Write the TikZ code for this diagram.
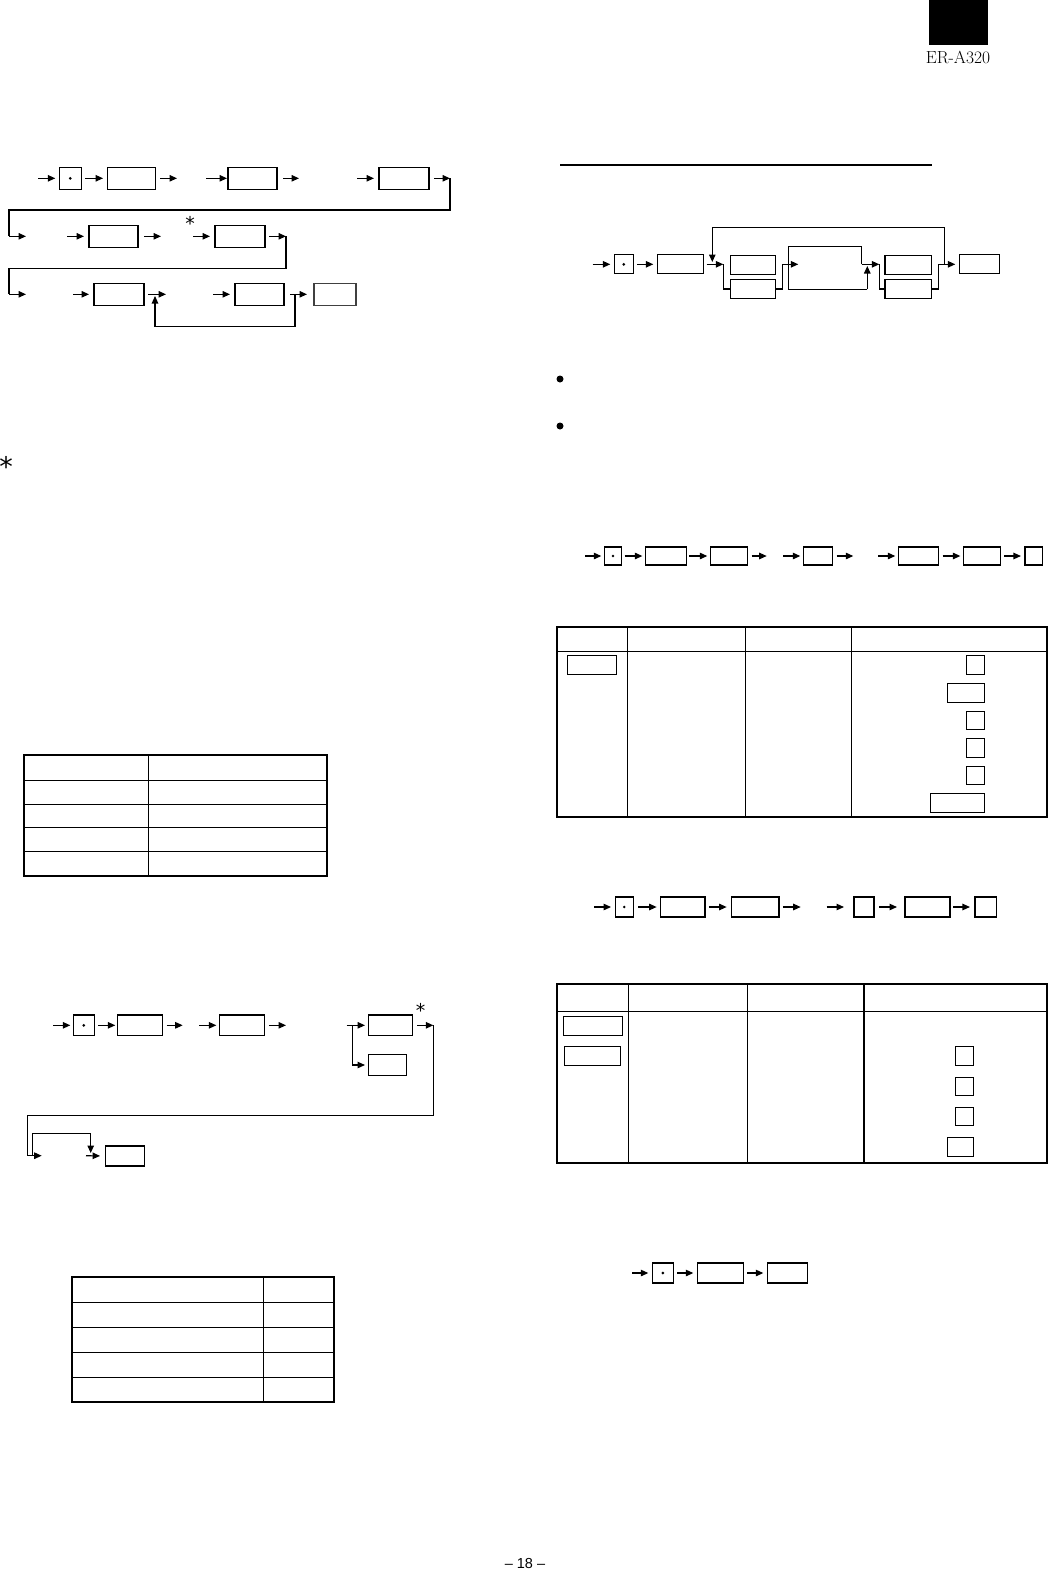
\documentclass[tikz,border=0pt]{standalone}
\usepackage{fontspec}
\newfontfamily\dejavufam{DejaVu Sans}
\newfontfamily\libsansfam{Liberation Sans}
\usetikzlibrary{arrows.meta}
\begin{document}
\begin{tikzpicture}[x=1pt,y=-1pt,
  kb/.style={draw, line width=1.1pt, inner sep=0pt, outer sep=0pt},
  arr/.style={line width=1.1pt, -{Triangle[length=7.5pt,width=6.5pt]}},
  ln/.style={line width=1.1pt},
  gp/.style={shorten <=4pt, shorten >=4pt},
  tout/.style={line width=2pt},
  tin/.style={line width=1.4pt},
  astsmall/.style={inner sep=0pt, font=\dejavufam\fontsize{19}{19}\selectfont},
  astbig/.style={inner sep=0pt, font=\dejavufam\fontsize{27}{27}\selectfont}]
\useasboundingbox (0,0) rectangle (1049,1575);
% header
\fill (929,0) rectangle (988,45);
\node[font=\fontsize{17.5}{17.5}\selectfont, inner sep=0pt] (model) at (958,57) {ER-A320};
\node[font=\libsansfam\fontsize{14.5}{14.5}\selectfont, inner sep=0pt] (pageno) at (525,1563) {\textendash{} 18 \textendash};

% ===== Diagram A (top left) =====
\coordinate (a0) at (38,178.3);
\node[kb, minimum width=22pt, minimum height=22pt] (dA) at (70.3,178.3) {};
\fill (dA) circle (1.5pt);
\node[kb, minimum width=48.3pt, minimum height=22pt] (bA1) at (131.2,178.3) {};
\coordinate (a1) at (177,178.3);
\coordinate (a2) at (206,178.3);
\node[kb, minimum width=49pt, minimum height=22pt] (bA2) at (252.5,178.3) {};
\coordinate (a3) at (299,178.3);
\coordinate (a4) at (357,178.3);
\node[kb, minimum width=50pt, minimum height=22pt] (bA4) at (404,178.3) {};
\coordinate (a5) at (450,178.3);
\draw[arr, shorten >=4pt] (a0) -- (dA.west);
\draw[arr, gp] (dA.east) -- (bA1.west);
\draw[arr, shorten <=4.7pt] (bA1.east) -- (a1);
\draw[arr, shorten >=1pt] (a2) -- (bA2.west);
\draw[arr, shorten <=6pt] (bA2.east) -- (a3);
\draw[arr, shorten >=5pt] (a4) -- (bA4.west);
\draw[arr, shorten <=5pt] (bA4.east) -- (a5);
\coordinate (a6) at (9,236.3);
\coordinate (a7) at (26,236.3);
\draw[ln] (a5) -- (450,210) -- (9,210) -- (a6);
\draw[arr] (a6) -- (a7);
% row 2
\coordinate (b0) at (67,236.3);
\node[kb, minimum width=49pt, minimum height=22pt] (bB1) at (113.5,236.3) {};
\coordinate (b1) at (161,236.3);
\node[astsmall] (astA) at (190,223) {*};
\coordinate (b2) at (193,236.3);
\node[kb, minimum width=50pt, minimum height=22pt] (bB2) at (240,236.3) {};
\coordinate (b3) at (286,236.3);
\draw[arr, shorten >=5pt] (b0) -- (bB1.west);
\draw[arr, shorten <=6pt] (bB1.east) -- (b1);
\draw[arr, shorten >=5pt] (b2) -- (bB2.west);
\draw[arr, shorten <=4pt] (bB2.east) -- (b3);
\coordinate (c0) at (9,294.3);
\coordinate (c1) at (26,294.3);
\draw[ln] (b3) -- (286,268.3) -- (9,268.3) -- (c0);
\draw[arr] (c0) -- (c1);
% row 3
\coordinate (c2) at (73,294.3);
\node[kb, minimum width=50pt, minimum height=22pt] (bC1) at (119,294.3) {};
\coordinate (c3) at (166,294.3);
\coordinate (c4) at (213,294.3);
\node[kb, minimum width=49pt, minimum height=22pt] (bC2) at (259.5,294.3) {};
\node[kb, draw=black!75, minimum width=42pt, minimum height=22pt] (bC3) at (335,294.3) {};
\coordinate (c5) at (295,294.3);
\coordinate (c6) at (155,296);
\draw[arr, shorten >=5pt] (c2) -- (bC1.west);
\draw[arr, shorten <=4pt] (bC1.east) -- (c3);
\draw[arr, shorten >=5pt] (c4) -- (bC2.west);
\draw[arr, shorten <=6pt, shorten >=7pt] (bC2.east) -- (bC3.west);
\draw[arr] (c5) -- (295,326.7) -- (155,326.7) -- (c6);

% ===== Diagram B (top right) =====
\draw[ln] (560,165) -- (931.7,165);
\coordinate (d0) at (592.7,264.3);
\node[kb, minimum width=19pt, minimum height=19pt] (dB) at (623.8,264.3) {};
\fill (dB) circle (1.5pt);
\node[kb, minimum width=46pt, minimum height=19pt] (bD1) at (680.3,264.3) {};
\coordinate (d1) at (723.3,264.3);
\node[kb, minimum width=45pt, minimum height=19pt] (bD2) at (752.8,264.8) {};
\node[kb, minimum width=45pt, minimum height=19.4pt] (bD3) at (752.8,289) {};
\coordinate (d2) at (782.3,264.3);
\coordinate (d3) at (798.3,264.3);
\coordinate (d4) at (861.7,264.3);
\coordinate (d5) at (867.3,266);
\coordinate (d6) at (879.3,264.3);
\node[kb, minimum width=46.7pt, minimum height=19pt] (bD4) at (908.3,264.8) {};
\node[kb, minimum width=46.7pt, minimum height=19.4pt] (bD5) at (908.3,289) {};
\coordinate (d7) at (938.3,264.3);
\coordinate (d8) at (944.3,264.3);
\coordinate (d9) at (712.3,262);
\node[kb, minimum width=40pt, minimum height=19pt] (bD6) at (979.3,264.3) {};
\draw[arr, shorten >=4pt] (d0) -- (dB.west);
\draw[arr, gp] (dB.east) -- (bD1.west);
\draw[arr, shorten <=3.4pt] (bD1.east) -- (d1);
\draw[ln] (d1) -- (723.3,289) -- (bD3.west);
\draw[ln] (bD3.east) -- (782.3,289) -- (d2);
\draw[arr] (d2) -- (d3);
\draw[ln] (d4) -- (861.7,246.7) -- (788.3,246.7) -- (788.3,289.3) -- (867.3,289.3);
\draw[arr] (867.3,289.3) -- (d5);
\draw[arr] (d4) -- (d6);
\draw[ln] (d6) -- (879.3,289) -- (bD5.west);
\draw[ln] (bD5.east) -- (938.3,289) -- (d7);
\draw[arr, shorten >=4pt] (d7) -- (bD6.west);
\draw[arr] (d8) -- (944.3,227.3) -- (712.3,227.3) -- (d9);

% bullets
\fill (560,379) circle (3.5pt);
\fill (560,426) circle (3.5pt);
\node[astbig] (astB) at (6,466) {*};

% ===== Diagram C (middle right) =====
\coordinate (e0) at (585,556);
\node[kb, minimum width=17.4pt, minimum height=18pt] (dC) at (613,556) {};
\fill (dC) circle (1.4pt);
\node[kb, minimum width=40.7pt, minimum height=18pt] (bE1) at (665.7,556) {};
\node[kb, minimum width=37.4pt, minimum height=18pt] (bE2) at (729,556) {};
\coordinate (e1) at (766.7,556);
\coordinate (e2) at (783.3,556);
\node[kb, minimum width=29.4pt, minimum height=18pt] (bE3) at (818,556) {};
\coordinate (e3) at (853.3,556);
\coordinate (e4) at (878.3,556);
\node[kb, minimum width=40.4pt, minimum height=18pt] (bE4) at (918.5,556) {};
\node[kb, minimum width=36.7pt, minimum height=18pt] (bE5) at (981.7,556) {};
\node[kb, minimum width=17.7pt, minimum height=18pt] (bE6) at (1033.8,556) {};
\draw[arr, shorten >=3pt] (e0) -- (dC.west);
\draw[arr, shorten <=3pt, shorten >=3pt] (dC.east) -- (bE1.west);
\draw[arr, shorten <=3pt, shorten >=3pt] (bE1.east) -- (bE2.west);
\draw[arr, shorten <=4pt] (bE2.east) -- (e1);
\draw[arr, shorten >=3pt] (e2) -- (bE3.west);
\draw[arr, shorten <=4pt] (bE3.east) -- (e3);
\draw[arr, shorten >=3pt] (e4) -- (bE4.west);
\draw[arr, shorten <=4pt, shorten >=3pt] (bE4.east) -- (bE5.west);
\draw[arr, shorten <=4pt, shorten >=4pt] (bE5.east) -- (bE6.west);

% ===== Table T1 (right) =====
\draw[tin] (556.7,651.7) -- (1047.3,651.7);
\draw[tin] (627.3,626.7) -- (627.3,817.3);
\draw[tin] (745.7,626.7) -- (745.7,817.3);
\draw[tin] (851.7,626.7) -- (851.7,817.3);
\draw[tout] (556.7,626.7) rectangle (1047.3,817.3);
\node[kb, minimum width=49pt, minimum height=19pt] (t1a) at (591.8,664.8) {};
\node[kb, minimum width=18pt, minimum height=19pt] (t1k1) at (975.3,664.8) {};
\node[kb, minimum width=37pt, minimum height=19pt] (t1k2) at (965.8,692.8) {};
\node[kb, minimum width=18pt, minimum height=18pt] (t1k3) at (975.3,720.3) {};
\node[kb, minimum width=18pt, minimum height=18.7pt] (t1k4) at (975.3,747.7) {};
\node[kb, minimum width=18pt, minimum height=18pt] (t1k5) at (975.3,775.3) {};
\node[kb, minimum width=54pt, minimum height=19pt] (t1k6) at (957.3,802.8) {};

% ===== Diagram D (right, second) =====
\coordinate (f0) at (594,907);
\node[kb, minimum width=18.3pt, minimum height=20pt] (dD) at (624.2,907) {};
\fill (dD) circle (1.4pt);
\node[kb, minimum width=44.3pt, minimum height=20pt] (bF1) at (682.8,907) {};
\node[kb, minimum width=47.3pt, minimum height=20pt] (bF2) at (755.3,907) {};
\coordinate (f1) at (800.7,907);
\coordinate (f2) at (826.7,907);
\node[kb, minimum width=20pt, minimum height=20pt] (bF3) at (864,907) {};
\node[kb, minimum width=45pt, minimum height=20pt] (bF4) at (927.5,907) {};
\node[kb, minimum width=21.7pt, minimum height=20pt] (bF5) at (985.8,907) {};
\draw[arr, shorten >=4pt] (f0) -- (dD.west);
\draw[arr, shorten <=5pt, shorten >=4pt] (dD.east) -- (bF1.west);
\draw[arr, shorten <=4pt, shorten >=5pt] (bF1.east) -- (bF2.west);
\draw[arr, shorten <=4pt] (bF2.east) -- (f1);
\draw[arr, shorten >=10pt] (f2) -- (bF3.west);
\draw[arr, shorten <=5pt, shorten >=8pt] (bF3.east) -- (bF4.west);
\draw[arr, shorten <=3pt, shorten >=5pt] (bF4.east) -- (bF5.west);

% ===== Table T2 (right) =====
\draw[tin] (556.7,1011.7) -- (1047.3,1011.7);
\draw[tin] (628.3,984) -- (628.3,1162.7);
\draw[tin] (747.3,984) -- (747.3,1162.7);
\draw[tin] (864,984) -- (864,1162.7);
\draw[tout] (556.7,984) rectangle (1047.3,1162.7);
\node[kb, minimum width=59pt, minimum height=18.6pt] (t2a) at (592.8,1026) {};
\node[kb, minimum width=56pt, minimum height=19pt] (t2b) at (592.3,1055.8) {};
\node[kb, minimum width=18pt, minimum height=19pt] (t2m1) at (964.3,1055.8) {};
\node[kb, minimum width=18pt, minimum height=18pt] (t2m2) at (964.3,1086.3) {};
\node[kb, minimum width=18pt, minimum height=18pt] (t2m3) at (964.3,1116.3) {};
\node[kb, minimum width=26pt, minimum height=18.7pt] (t2m4) at (960.3,1146.7) {};

% ===== Diagram E (left, second) =====
\coordinate (g0) at (53.3,1025.3);
\node[kb, minimum width=21pt, minimum height=20.7pt] (dE) at (83.8,1025.3) {};
\fill (dE) circle (1.5pt);
\node[kb, minimum width=45pt, minimum height=20.7pt] (bG1) at (139.8,1025.3) {};
\coordinate (g1) at (182.7,1025.3);
\coordinate (g2) at (199.3,1025.3);
\node[kb, minimum width=44.7pt, minimum height=20.7pt] (bG2) at (241.7,1025.3) {};
\coordinate (g3) at (286,1025.3);
\coordinate (g4) at (346.7,1025.3);
\coordinate (g5) at (352.7,1025.3);
\node[kb, minimum width=44.4pt, minimum height=20.7pt] (bG3) at (390.5,1025.3) {};
\node[kb, minimum width=38.4pt, minimum height=21.4pt] (bG4) at (387.5,1065) {};
\node[astsmall] (astC) at (420.7,1010) {*};
\coordinate (g6) at (433.3,1025.3);
\coordinate (g7) at (27.3,1155.7);
\coordinate (g8) at (41.7,1155.7);
\coordinate (g9) at (32.3,1155.7);
\coordinate (g10) at (90.7,1153);
\coordinate (g11) at (86,1155.7);
\node[kb, minimum width=39.3pt, minimum height=20pt] (bG5) at (124.7,1156) {};
\draw[arr, shorten >=3pt] (g0) -- (dE.west);
\draw[arr, shorten <=4pt, shorten >=2pt] (dE.east) -- (bG1.west);
\draw[arr, shorten <=4.4pt] (bG1.east) -- (g1);
\draw[arr, shorten >=3pt] (g2) -- (bG2.west);
\draw[arr, shorten <=5pt] (bG2.east) -- (g3);
\draw[arr, shorten >=3.3pt] (g4) -- (bG3.west);
\draw[arr, shorten >=3.3pt] (g5) |- (bG4.west);
\draw[arr, shorten <=4.6pt] (bG3.east) -- (g6);
\draw[ln] (g6) -- (433.3,1115.7) -- (27.3,1115.7) -- (g7);
\draw[arr] (g7) -- (g8);
\draw[arr] (g9) -- (32.3,1133.3) -- (90.7,1133.3) -- (g10);
\draw[arr, shorten >=5pt] (g11) -- (bG5.west);

% ===== Table T3 (left) =====
\draw[tin] (24.3,780.7) -- (326.7,780.7);
\draw[tin] (24.3,804.3) -- (326.7,804.3);
\draw[tin] (24.3,827.7) -- (326.7,827.7);
\draw[tin] (24.3,851.3) -- (326.7,851.3);
\draw[tin] (148.3,755) -- (148.3,876);
\draw[tout] (24.3,755) rectangle (326.7,876);

% ===== Table T4 (left bottom) =====
\draw[tin] (71.7,1302.3) -- (334.3,1302.3);
\draw[tin] (71.7,1327.7) -- (334.3,1327.7);
\draw[tin] (71.7,1352.3) -- (334.3,1352.3);
\draw[tin] (71.7,1377.3) -- (334.3,1377.3);
\draw[tin] (263.3,1276.7) -- (263.3,1402.3);
\draw[tout] (71.7,1276.7) rectangle (334.3,1402.3);

% ===== Diagram F (bottom right) =====
\coordinate (h0) at (632.3,1273);
\node[kb, minimum width=21pt, minimum height=20pt] (dF) at (662.8,1273) {};
\fill (dF) circle (1.5pt);
\node[kb, minimum width=46pt, minimum height=20pt] (bH1) at (720.3,1273) {};
\node[kb, minimum width=40pt, minimum height=20pt] (bH2) at (787.3,1273) {};
\draw[arr, shorten >=4pt] (h0) -- (dF.west);
\draw[arr, gp] (dF.east) -- (bH1.west);
\draw[arr, gp] (bH1.east) -- (bH2.west);
\end{tikzpicture}
\end{document}
